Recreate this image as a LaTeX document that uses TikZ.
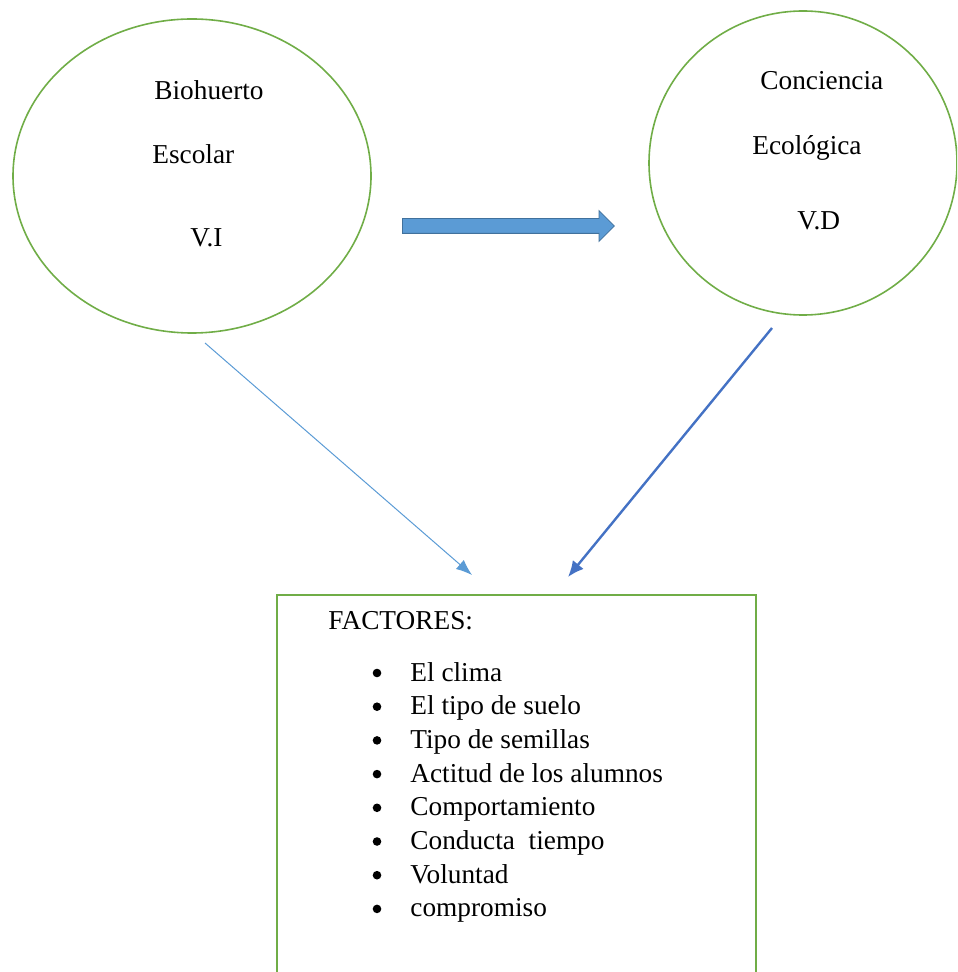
\documentclass[tikz,border=0pt]{standalone}
\usepackage{fontspec}
\setmainfont{Liberation Serif}
\usetikzlibrary{arrows.meta,shapes.geometric,shapes.arrows}
\definecolor{var_green}{RGB}{112,173,71}
\definecolor{arrow_blue}{RGB}{91,155,213}
\definecolor{edge_blue}{RGB}{65,113,156}
\definecolor{dark_blue}{RGB}{68,114,196}

\begin{document}
\begin{tikzpicture}[x=0.5pt,y=-0.5pt]
    \tikzstyle{label}=[text=black,font=\fontsize{13.65}{16}\selectfont,anchor=base west,inner sep=0pt]
    \tikzstyle{var}=[draw=var_green,ellipse,line width=0.8pt,inner sep=0pt]
    \tikzstyle{fbox}=[draw=var_green,rectangle,line width=0.8pt,anchor=north west,inner sep=0pt]
    \tikzstyle{bullet}=[circle,fill=black,inner sep=0pt,minimum size=4.3pt]
    \tikzstyle{bigarrow}=[single arrow,fill=arrow_blue,draw=edge_blue,line width=0.4pt,inner xsep=0pt,inner ysep=3.5pt,
        single arrow head extend=4pt,single arrow head indent=0pt,minimum height=106pt,anchor=tail]
    \useasboundingbox (0,0) rectangle (957,972);
    \clip (0,0) rectangle (957,972);

    % variables
    \node[var,minimum width=179pt,minimum height=157pt] (VI) at (192,176) {};
    \node[var,minimum width=154pt,minimum height=152pt] (VD) at (803,163) {};
    \node[label] (l1) at (154,100) {Biohuerto};
    \node[label] (l2) at (152,164) {Escolar};
    \node[label] (l3) at (190,247) {V.I};
    \node[label] (l4) at (760,90)  {Conciencia};
    \node[label] (l5) at (752,155) {Ecológica};
    \node[label] (l6) at (797,230) {V.D};
    \node[bigarrow] (flecha) at (402,226) {};

    % factores
    \node[fbox,minimum width=239.5pt,minimum height=200pt] (box) at (276,594) {};
    \node[label] (fac) at (328,629) {FACTORES:};
    \foreach \txt [count=\i] in {El clima,El tipo de suelo,Tipo de semillas,Actitud de los alumnos,
        Comportamiento,Conducta\ \ tiempo,Voluntad,compromiso}
    {
        \node[label] (item\i) at (410,{681+33.7*(\i-1)}) {\txt};
        \node[bullet] (bul\i) at (377,{673+33.7*(\i-1)}) {};
    }

    \coordinate (a1) at (205,343);
    \coordinate (a2) at (472,575);
    \coordinate (b1) at (772,328);
    \coordinate (b2) at (568,577);
    \path
     (a1) edge[arrow_blue,line width=0.5pt,-{Latex[length=8pt,width=6pt]}] (a2)
     (b1) edge[dark_blue,line width=1.2pt,-{Latex[length=8pt,width=7pt]}] (b2);
\end{tikzpicture}
\end{document}
